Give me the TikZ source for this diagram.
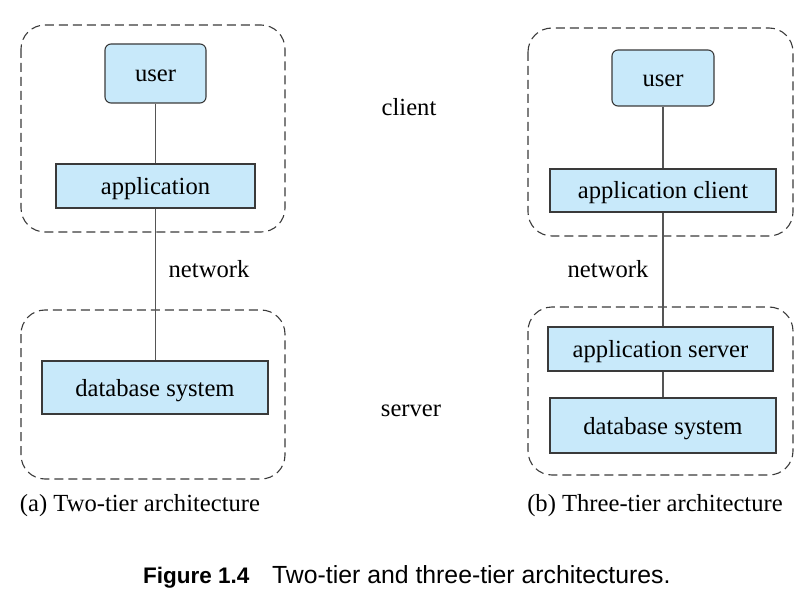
\documentclass[tikz,border=0pt]{standalone}
\usepackage{fontspec}
\setmainfont{Liberation Serif}
\newfontfamily\capfont{Liberation Sans}
\definecolor{boxblue}{HTML}{C8E9FA}
\definecolor{edgegray}{HTML}{3A3A3A}
\definecolor{linegray}{HTML}{555555}
\begin{document}
\begin{tikzpicture}[x=1pt,y=-1pt,
  tier/.style={draw=edgegray,dashed,line width=1.1pt,dash pattern=on 9pt off 5pt,rounded corners=24pt},
  blk/.style={draw=edgegray,fill=boxblue,line width=1.1pt,text height=17pt,text depth=0pt,inner sep=0pt},
  lbl/.style={font=\fontsize{24.6}{27}\selectfont},
  conn/.style={draw=linegray,line width=1.3pt}]
\useasboundingbox (0,0) rectangle (807,599);
% left
\draw[tier] (21,25) rectangle (285,232);
\draw[tier] (21,310) rectangle (285,479);
\node[blk,rounded corners=6pt,minimum width=101pt,minimum height=59pt,lbl] (u1) at (155.5,73.5) {user};
\node[blk,minimum width=199pt,minimum height=44pt,lbl] (a1) at (155.5,186) {application};
\node[blk,minimum width=226pt,minimum height=53pt,lbl] (d1) at (155,387.5) {database system};
\draw[conn] (u1) -- (a1);
\draw[conn] (a1) -- (d1.north -| a1.south);
% right
\draw[tier] (528,28) rectangle (793,236);
\draw[tier] (528,307) rectangle (793,475);
\node[blk,rounded corners=6pt,minimum width=102pt,minimum height=56pt,lbl] (u2) at (663,78) {user};
\node[blk,minimum width=226pt,minimum height=43pt,lbl] (a2) at (663,190.5) {application client};
\node[blk,minimum width=225pt,minimum height=44pt,lbl] (s2) at (660.5,349) {application server};
\node[blk,minimum width=226pt,minimum height=55pt,lbl] (d2) at (663,425.5) {database system};
\draw[conn] (u2) -- (a2);
\draw[conn] (a2) -- (s2.north -| a2.south);
\draw[conn] (s2.south -| d2.north) -- (d2);
% labels
\node[lbl] (cl) at (409,107) {client};
\node[lbl] (sv) at (411,411) {server};
\node[lbl] (n1) at (209,269) {network};
\node[lbl] (n2) at (608,269) {network};
\node[lbl] (ca) at (140,506) {(a) Two-tier architecture};
\node[lbl] (cb) at (655,506) {(b) Three-tier architecture};
\node[anchor=base west,inner sep=0pt,font=\capfont\bfseries\fontsize{22.5}{26}\selectfont] (f1) at (143,583) {Figure 1.4};
\node[anchor=base west,inner sep=0pt,font=\capfont\fontsize{24.8}{26}\selectfont] (f2) at (272,583) {Two-tier and three-tier architectures.};
\end{tikzpicture}
\end{document}
